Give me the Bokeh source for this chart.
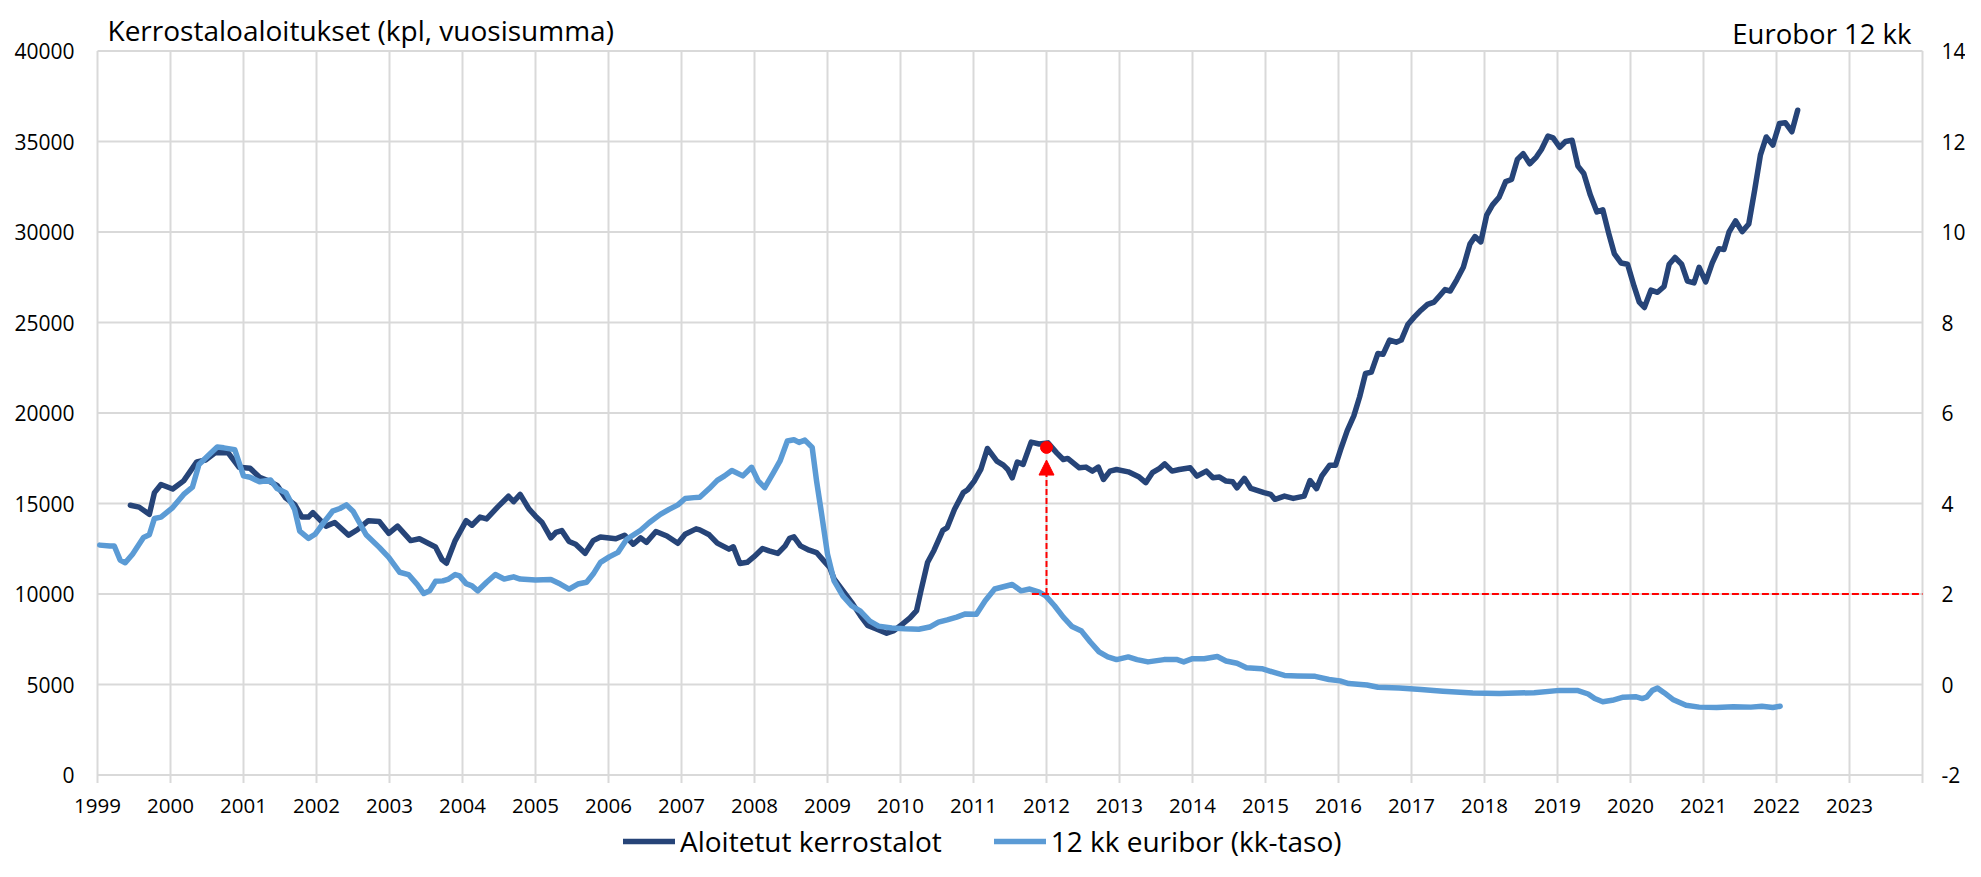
from bokeh.plotting import figure
from bokeh.models import (Range1d, Legend, LegendItem, Label, Arrow, NormalHead,
                          ColumnDataSource)
from bokeh.core.properties import value
from bokeh.embed import file_html
from bokeh.resources import INLINE

# ---------------- data ----------------
starts_year = [1999.45, 1999.57, 1999.71, 1999.78, 1999.87, 2000.03, 2000.18, 2000.36, 2000.48, 2000.61,
               2000.79, 2000.94, 2001.09, 2001.22, 2001.34, 2001.46, 2001.58, 2001.70, 2001.80, 2001.89,
               2001.95, 2002.13, 2002.25, 2002.44, 2002.56, 2002.71, 2002.86, 2002.99, 2003.11, 2003.29,
               2003.41, 2003.63, 2003.72, 2003.78, 2003.90, 2004.05, 2004.13, 2004.24, 2004.33, 2004.48,
               2004.63, 2004.70, 2004.79, 2004.91, 2005.00, 2005.09, 2005.21, 2005.28, 2005.36, 2005.46,
               2005.55, 2005.68, 2005.79, 2005.89, 2006.10, 2006.22, 2006.34, 2006.44, 2006.52, 2006.65,
               2006.80, 2006.95, 2007.05, 2007.20,
               2007.25, 2007.38, 2007.49, 2007.65, 2007.71, 2007.80, 2007.90, 2007.99, 2008.11, 2008.20,
               2008.32, 2008.42, 2008.48, 2008.54, 2008.63, 2008.75, 2008.85, 2008.95, 2009.03, 2009.09,
               2009.21, 2009.33, 2009.45, 2009.55, 2009.67, 2009.81, 2009.91, 2010.03, 2010.13, 2010.22,
               2010.28, 2010.37, 2010.46, 2010.58, 2010.64, 2010.74, 2010.86, 2010.92, 2011.01, 2011.10,
               2011.19, 2011.32, 2011.41, 2011.47, 2011.53, 2011.60, 2011.68, 2011.79, 2011.90, 2012.02,
               2012.14, 2012.23, 2012.29, 2012.45, 2012.54, 2012.63, 2012.71, 2012.78, 2012.87, 2012.96,
               2013.12, 2013.27, 2013.36, 2013.45, 2013.55, 2013.62, 2013.72, 2013.82, 2013.97, 2014.06,
               2014.19, 2014.28, 2014.37, 2014.46, 2014.55, 2014.61, 2014.71, 2014.80, 2014.98, 2015.07,
               2015.13, 2015.26, 2015.38, 2015.53, 2015.61, 2015.70, 2015.77, 2015.88, 2015.96,
               2016.03, 2016.12, 2016.21, 2016.29, 2016.37, 2016.45, 2016.54, 2016.61, 2016.70, 2016.79,
               2016.86, 2016.95, 2017.04, 2017.13, 2017.22, 2017.31, 2017.38, 2017.46, 2017.53, 2017.62,
               2017.71, 2017.80, 2017.87, 2017.95, 2018.03, 2018.11, 2018.20, 2018.29, 2018.37, 2018.45,
               2018.53, 2018.62, 2018.71, 2018.78, 2018.87, 2018.94, 2019.03, 2019.11, 2019.20, 2019.28,
               2019.36, 2019.45, 2019.54, 2019.62, 2019.70, 2019.78, 2019.87, 2019.96, 2020.05, 2020.12,
               2020.19, 2020.28, 2020.37, 2020.46, 2020.53, 2020.61, 2020.70, 2020.78, 2020.87, 2020.94,
               2021.03, 2021.12, 2021.21, 2021.28, 2021.35, 2021.44, 2021.53, 2021.62, 2021.70, 2021.78,
               2021.86, 2021.95, 2022.04, 2022.12, 2022.21, 2022.29]
starts_value = [14900, 14800, 14400, 15600, 16050, 15800, 16250, 17300, 17400, 17800,
                17800, 17000, 16950, 16450, 16250, 16000, 15300, 14950, 14250, 14250,
                14500, 13750, 13950, 13250, 13550, 14050, 14000, 13350, 13750, 12950,
                13050, 12600, 11900, 11700, 12950, 14050, 13800, 14250, 14150, 14800,
                15400, 15100, 15500, 14700, 14300, 13950, 13100, 13400, 13500, 12900,
                12750, 12250, 12950, 13150, 13050, 13250, 12750, 13100, 12850, 13450,
                13200, 12800, 13300, 13600,
                13540, 13270, 12810, 12480, 12610, 11690, 11750, 12050, 12510, 12380,
                12240, 12660, 13080, 13160, 12660, 12420, 12290, 11830, 11470, 10830,
                10180, 9540, 8810, 8260, 8070, 7830, 7980, 8350, 8680, 9080,
                10180, 11740, 12420, 13520, 13670, 14680, 15600, 15760, 16240, 16880,
                18040, 17340, 17120, 16880, 16420, 17290, 17160, 18390, 18290, 18350,
                17800, 17430, 17490, 16970, 17010, 16790, 17010, 16330, 16790, 16880,
                16750, 16460, 16150, 16700, 16940, 17190, 16790, 16880, 16970, 16510,
                16790, 16420, 16460, 16240, 16200, 15870, 16390, 15830, 15600, 15500,
                15230, 15410, 15280, 15410, 16270, 15820, 16510, 17120, 17120,
                17990, 19030, 19840, 20900, 22180, 22260, 23290, 23240, 24030, 23910,
                24030, 24890, 25310, 25680, 26000, 26130, 26450, 26820, 26740, 27360,
                28050, 29330, 29750, 29450, 30930, 31500, 31920, 32780, 32900, 34010,
                34330, 33770, 34140, 34560, 35300, 35200, 34680, 35000, 35070, 33640,
                33230, 32040, 31110, 31230, 29950, 28790, 28290, 28220, 26990, 26130,
                25830, 26790, 26670, 26990, 28220, 28590, 28220, 27290, 27190, 28050,
                27240, 28290, 29080, 29030, 30000, 30610, 30020, 30440, 32290, 34260,
                35250, 34800, 35990, 36040, 35540, 36730]

euribor_year = [1999.03, 1999.17, 1999.23, 1999.31, 1999.38, 1999.48, 1999.63, 1999.71, 1999.78, 1999.87,
                2000.03, 2000.18, 2000.30, 2000.39, 2000.51, 2000.64, 2000.73, 2000.88, 2001.00, 2001.09,
                2001.22, 2001.37, 2001.46, 2001.58, 2001.70, 2001.77, 2001.89, 2001.98, 2002.10, 2002.22,
                2002.32, 2002.41, 2002.50, 2002.68, 2002.86, 2002.99, 2003.14, 2003.26, 2003.38, 2003.47,
                2003.55, 2003.63, 2003.73, 2003.81, 2003.90, 2003.96, 2004.05, 2004.13, 2004.21, 2004.33,
                2004.45, 2004.57, 2004.70, 2004.79, 2005.00, 2005.21, 2005.34, 2005.46, 2005.58, 2005.70,
                2005.79, 2005.89, 2006.01, 2006.13, 2006.25, 2006.44, 2006.56, 2006.71, 2006.83, 2006.95,
                2007.05, 2007.17,
                2007.25, 2007.38, 2007.49, 2007.59, 2007.69, 2007.84, 2007.96, 2008.05, 2008.14, 2008.26,
                2008.35, 2008.45, 2008.54, 2008.61, 2008.69, 2008.79, 2008.85, 2008.92, 2009.00, 2009.09,
                2009.21, 2009.33, 2009.45, 2009.58, 2009.70, 2009.88, 2010.06, 2010.25, 2010.40, 2010.52,
                2010.64, 2010.77, 2010.89, 2011.04, 2011.16, 2011.29, 2011.41, 2011.53, 2011.65, 2011.77,
                2011.90, 2011.99, 2012.11, 2012.23, 2012.35, 2012.48, 2012.60, 2012.72, 2012.84, 2012.96,
                2013.12, 2013.24, 2013.39, 2013.61, 2013.79, 2013.88, 2014.00, 2014.16, 2014.34, 2014.46,
                2014.61, 2014.74, 2014.95, 2015.13, 2015.26, 2015.44, 2015.68, 2015.87, 2016.02, 2016.14,
                2016.39, 2016.54, 2016.83, 2017.13, 2017.43, 2017.84, 2018.20, 2018.68, 2019.03, 2019.27,
                2019.42, 2019.51, 2019.62, 2019.75, 2019.90, 2020.07, 2020.16, 2020.22, 2020.30, 2020.37,
                2020.46, 2020.58, 2020.76, 2020.94, 2021.18, 2021.41, 2021.65, 2021.80, 2021.95, 2022.05]
euribor_value = [3.08, 3.06, 3.06, 2.75, 2.69, 2.88, 3.25, 3.31, 3.67, 3.70,
                 3.91, 4.20, 4.36, 4.86, 5.05, 5.25, 5.23, 5.19, 4.61, 4.58,
                 4.48, 4.52, 4.33, 4.24, 3.87, 3.39, 3.23, 3.32, 3.58, 3.83,
                 3.89, 3.97, 3.83, 3.31, 3.03, 2.81, 2.48, 2.43, 2.21, 2.01,
                 2.07, 2.28, 2.29, 2.33, 2.43, 2.40, 2.23, 2.18, 2.07, 2.26,
                 2.43, 2.33, 2.38, 2.33, 2.31, 2.32, 2.22, 2.11, 2.22, 2.26,
                 2.44, 2.70, 2.82, 2.92, 3.21, 3.41, 3.58, 3.76, 3.87, 3.97,
                 4.11, 4.13,
                 4.14, 4.33, 4.51, 4.61, 4.73, 4.61, 4.80, 4.50, 4.35, 4.68,
                 4.94, 5.38, 5.41, 5.35, 5.40, 5.24, 4.50, 3.76, 2.88, 2.29,
                 1.96, 1.74, 1.62, 1.40, 1.29, 1.25, 1.23, 1.22, 1.27, 1.38,
                 1.43, 1.49, 1.56, 1.55, 1.85, 2.11, 2.16, 2.21, 2.07, 2.11,
                 2.04, 1.96, 1.74, 1.49, 1.28, 1.18, 0.94, 0.72, 0.61, 0.55,
                 0.61, 0.55, 0.50, 0.55, 0.55, 0.50, 0.57, 0.57, 0.62, 0.52,
                 0.47, 0.37, 0.35, 0.26, 0.20, 0.19, 0.18, 0.11, 0.08, 0.02,
                 -0.01, -0.06, -0.08, -0.11, -0.15, -0.19, -0.20, -0.18, -0.13, -0.13,
                 -0.21, -0.31, -0.38, -0.35, -0.28, -0.27, -0.31, -0.28, -0.13, -0.08,
                 -0.18, -0.33, -0.46, -0.50, -0.51, -0.49, -0.50, -0.48, -0.51, -0.48]

year_ticks = list(range(1999, 2025))
year_labels = [str(y) for y in range(1999, 2024)]
left_ticks = [0, 5000, 10000, 15000, 20000, 25000, 30000, 35000, 40000]
right_ticks = [-2, 0, 2, 4, 6, 8, 10, 12, 14]

series_names = ["Aloitetut kerrostalot", "12 kk euribor (kk-taso)"]
left_title = "Kerrostaloaloitukset (kpl, vuosisumma)"
right_title = "Eurobor 12 kk"

# annotation data
peak_year = 2012.0
peak_value = 18100
arrow_tip_value = 17400
rate_level = 2.0
rate_line_start = 2011.8

# ---------------- layout constants (pixels) ----------------
W, H = 1965, 861
LEFT_PX, RIGHT_PX = 97, 1922            # pixel columns of 1999 and 2024
TOP_PX, ZERO_PX = 50.5, 774.5           # pixel rows of 40000 and 0

FONT = "Open Sans"
DARK = "#264478"
LIGHT = "#5B9BD5"
GRID = "#D9D9D9"
RED = "#FF0000"

x0, x1 = 1999, 2024
l0, l1 = 0, 40000
r0, r1 = -2, 14
xpp = (x1 - x0) / (RIGHT_PX - LEFT_PX)
lpp = (l1 - l0) / (ZERO_PX - TOP_PX)
rpp = (r1 - r0) / (ZERO_PX - TOP_PX)

p = figure(width=W, height=H, output_backend="svg", toolbar_location=None,
           x_range=Range1d(x0 - LEFT_PX * xpp, x1 + (W - RIGHT_PX) * xpp),
           y_range=Range1d(l0 - (H - ZERO_PX) * lpp, l1 + TOP_PX * lpp),
           min_border_left=0, min_border_right=0, min_border_top=0, min_border_bottom=0)
p.extra_y_ranges = {"eur": Range1d(r0 - (H - ZERO_PX) * rpp, r1 + TOP_PX * rpp)}
p.outline_line_color = None
p.background_fill_color = "white"
p.border_fill_color = "white"
p.axis.visible = False
p.grid.visible = False

# grid lines
n = len(year_ticks)
m = len(left_ticks)
p.segment(x0=[x0] * m, y0=left_ticks, x1=[x1] * m, y1=left_ticks, line_color=GRID, line_width=2)
p.segment(x0=year_ticks, y0=[l0] * n, x1=year_ticks, y1=[l1] * n, line_color=GRID, line_width=2)
# x tick marks below the zero line
p.segment(x0=year_ticks, y0=[l0] * n, x1=year_ticks, y1=[l0 - 8 * lpp] * n,
          line_color=GRID, line_width=2)

# tick labels
p.text(x=year_ticks[:-1], y=[l0] * len(year_labels), text=year_labels, y_offset=31,
       text_align="center", text_baseline="middle", text_font=value(FONT),
       text_font_size="20.5px", text_color="#000000")
p.text(x=[x0] * m, y=left_ticks, text=[str(v) for v in left_ticks], x_offset=-23,
       text_align="right", text_baseline="middle", text_font=value(FONT),
       text_font_size="21px", text_color="#000000")
p.text(x=[x1] * len(right_ticks), y=right_ticks, text=[str(v) for v in right_ticks],
       x_offset=19, y_range_name="eur",
       text_align="left", text_baseline="middle", text_font=value(FONT),
       text_font_size="21px", text_color="#000000")

# series (light drawn over dark, as in the reference)
src_s = ColumnDataSource(dict(x=starts_year, y=starts_value))
src_e = ColumnDataSource(dict(x=euribor_year, y=euribor_value))
r_s = p.line("x", "y", source=src_s, line_color=DARK, line_width=5.5,
             line_join="round", line_cap="round")
r_e = p.line("x", "y", source=src_e, line_color=LIGHT, line_width=5.5,
             line_join="round", line_cap="round", y_range_name="eur")

# red annotations
def rate_to_left(v):
    return (v - r0) / (r1 - r0) * (l1 - l0) + l0

p.line([rate_line_start, x1], [rate_level, rate_level], y_range_name="eur",
       line_color=RED, line_width=2, line_dash="7 3")
p.add_layout(Arrow(end=NormalHead(size=15, fill_color=RED, line_color=RED),
                   x_start=peak_year, y_start=rate_to_left(rate_level),
                   x_end=peak_year, y_end=arrow_tip_value,
                   line_color=RED, line_width=2, line_dash="6 3"))
p.scatter([peak_year], [peak_value], size=12, fill_color=RED, line_color=RED)

# titles
p.add_layout(Label(x=x0, y=l1, x_offset=10, y_offset=21, text=left_title,
                   text_font=FONT, text_font_size="28px", text_baseline="alphabetic",
                   text_color="#000000"))
p.add_layout(Label(x=x1, y=l1, x_offset=-11, y_offset=18, text=right_title,
                   text_font=FONT, text_font_size="27.5px", text_baseline="alphabetic",
                   text_align="right", text_color="#000000"))

# legend at the bottom
legend = Legend(items=[LegendItem(label=series_names[0], renderers=[r_s]),
                       LegendItem(label=series_names[1], renderers=[r_e])],
                orientation="horizontal", location=(623, 1),
                glyph_width=52, glyph_height=20, label_standoff=5, spacing=52,
                padding=0, margin=0, border_line_color=None, background_fill_alpha=0,
                label_text_font=FONT, label_text_font_size="28px", label_text_color="#000000")
p.add_layout(legend, "center")

open("out.html", "w").write(file_html(p, INLINE))
